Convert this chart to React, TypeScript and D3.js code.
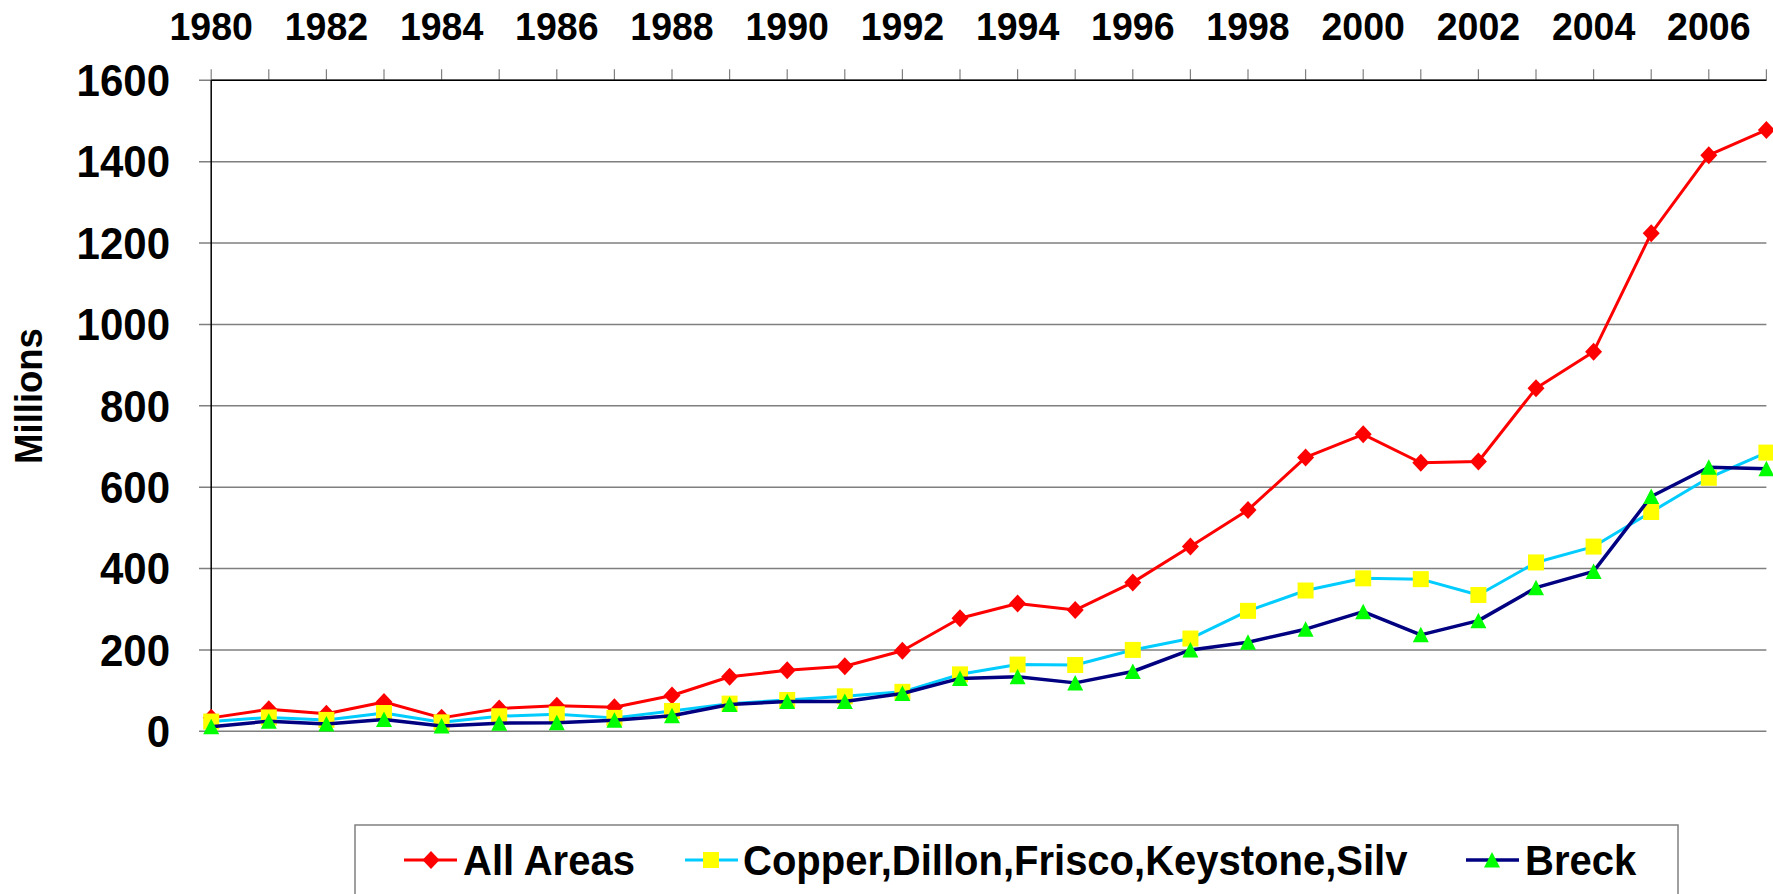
import React from "react";
import * as d3 from "d3";

const years = d3.range(1980, 2008);
const yearLabels = ["1980","1982","1984","1986","1988","1990","1992","1994","1996","1998","2000","2002","2004","2006"];
const yTicks = [0, 200, 400, 600, 800, 1000, 1200, 1400, 1600];

const allAreas = [33, 54, 43, 72, 33, 56, 63, 59, 88, 134, 150, 160, 198, 278, 314, 298, 366, 454, 544, 673, 730, 660, 663, 843, 933, 1224, 1416, 1478];
const copper = [24, 34, 28, 45, 22, 37, 42, 33, 50, 68, 77, 86, 97, 140, 164, 163, 200, 228, 296, 346, 376, 374, 335, 415, 454, 539, 623, 685];
const breck = [11, 25, 18, 29, 13, 20, 21, 27, 38, 66, 73, 73, 93, 130, 134, 119, 147, 200, 219, 251, 294, 237, 272, 353, 393, 577, 649, 645];

const seriesNames = ["All Areas", "Copper,Dillon,Frisco,Keystone,Silv", "Breck"];

const W = 1773;
const H = 894;
const FONT = "'Liberation Sans', Arial, Helvetica, sans-serif";
const SY = 1.05;

const diamond = "M0,-9L8.5,0L0,9L-8.5,0Z";
const square = "M-8,-8H8V8H-8Z";
const triangle = "M0,-8L8,7.5L-8,7.5Z";

export default function App() {
  const x = d3.scaleLinear().domain([1980, 2007]).range([211.2, 1766.4]);
  const y = d3.scaleLinear().domain([0, 1600]).range([731.3, 80.3]);

  const series = [
    { name: seriesNames[0], values: allAreas, line: "#FF0000", fill: "#FF0000", marker: diamond, lw: 3 },
    { name: seriesNames[1], values: copper, line: "#00CCFF", fill: "#FFFF00", marker: square, lw: 3 },
    { name: seriesNames[2], values: breck, line: "#000080", fill: "#00FF00", marker: triangle, lw: 3.5 },
  ];

  const lineGen = d3
    .line<[number, number]>()
    .x((d) => x(d[0]))
    .y((d) => y(d[1]));

  const legendItems = [
    { lineX: 404, markX: 431, textX: 463 },
    { lineX: 685, markX: 711, textX: 743 },
    { lineX: 1466, markX: 1492, textX: 1525 },
  ];
  const legendY = 860;

  return (
    <svg
      width={W}
      height={H}
      style={{ position: "absolute", left: 0, top: 0, background: "#fff" }}
      fontFamily={FONT}
    >
      <rect x={0} y={0} width={W} height={H} fill="#fff" />
      {yTicks.map((t) => (
        <line key={"g" + t} x1={199} x2={x(2007)} y1={y(t)} y2={y(t)} stroke="#7f7f7f" strokeWidth={1.5} />
      ))}
      {years.map((yr) => (
        <line key={"t" + yr} x1={x(yr)} x2={x(yr)} y1={y(1600) - 11} y2={y(1600)} stroke="#808080" strokeWidth={1.2} />
      ))}
      <line x1={x(1980)} x2={x(2007)} y1={y(1600)} y2={y(1600)} stroke="#000" strokeWidth={1.5} />
      <line x1={x(1980)} x2={x(1980)} y1={y(1600)} y2={y(0)} stroke="#000" strokeWidth={1.5} />

      {yearLabels.map((l) => (
        <text
          key={"xl" + l}
          transform={`translate(${x(+l)},40) scale(1,${SY})`}
          textAnchor="middle"
          fontSize={37.5}
          fontWeight="bold"
          fill="#000"
        >
          {l}
        </text>
      ))}
      {yTicks.map((t) => (
        <text
          key={"yl" + t}
          transform={`translate(170,${y(t) + 15.8}) scale(1,${SY})`}
          textAnchor="end"
          fontSize={42}
          fontWeight="bold"
          fill="#000"
        >
          {t}
        </text>
      ))}
      <text
        transform={`translate(42,396) rotate(-90) scale(1,${SY})`}
        textAnchor="middle"
        fontSize={36.5}
        fontWeight="bold"
        fill="#000"
      >
        Millions
      </text>

      {series.map((s, i) => {
        const pts: [number, number][] = years.map((yr, j) => [yr, s.values[j]]);
        return (
          <g key={"s" + i}>
            <path d={lineGen(pts) || ""} fill="none" stroke={s.line} strokeWidth={s.lw} strokeLinejoin="round" />
            {pts.map((p, j) => (
              <path key={j} d={s.marker} transform={`translate(${x(p[0])},${y(p[1])})`} fill={s.fill} />
            ))}
          </g>
        );
      })}

      <rect x={355} y={825} width={1323} height={90} fill="#fff" stroke="#808080" strokeWidth={1.5} />
      {series.map((s, i) => {
        const li = legendItems[i];
        return (
          <g key={"lg" + i}>
            <line x1={li.lineX} x2={li.lineX + 53} y1={legendY} y2={legendY} stroke={s.line} strokeWidth={s.lw} />
            <path d={s.marker} transform={`translate(${li.markX},${legendY})`} fill={s.fill} />
            <text
              transform={`translate(${li.textX},875) scale(1,${SY})`}
              fontSize={40}
              fontWeight="bold"
              fill="#000"
            >
              {s.name}
            </text>
          </g>
        );
      })}
    </svg>
  );
}
